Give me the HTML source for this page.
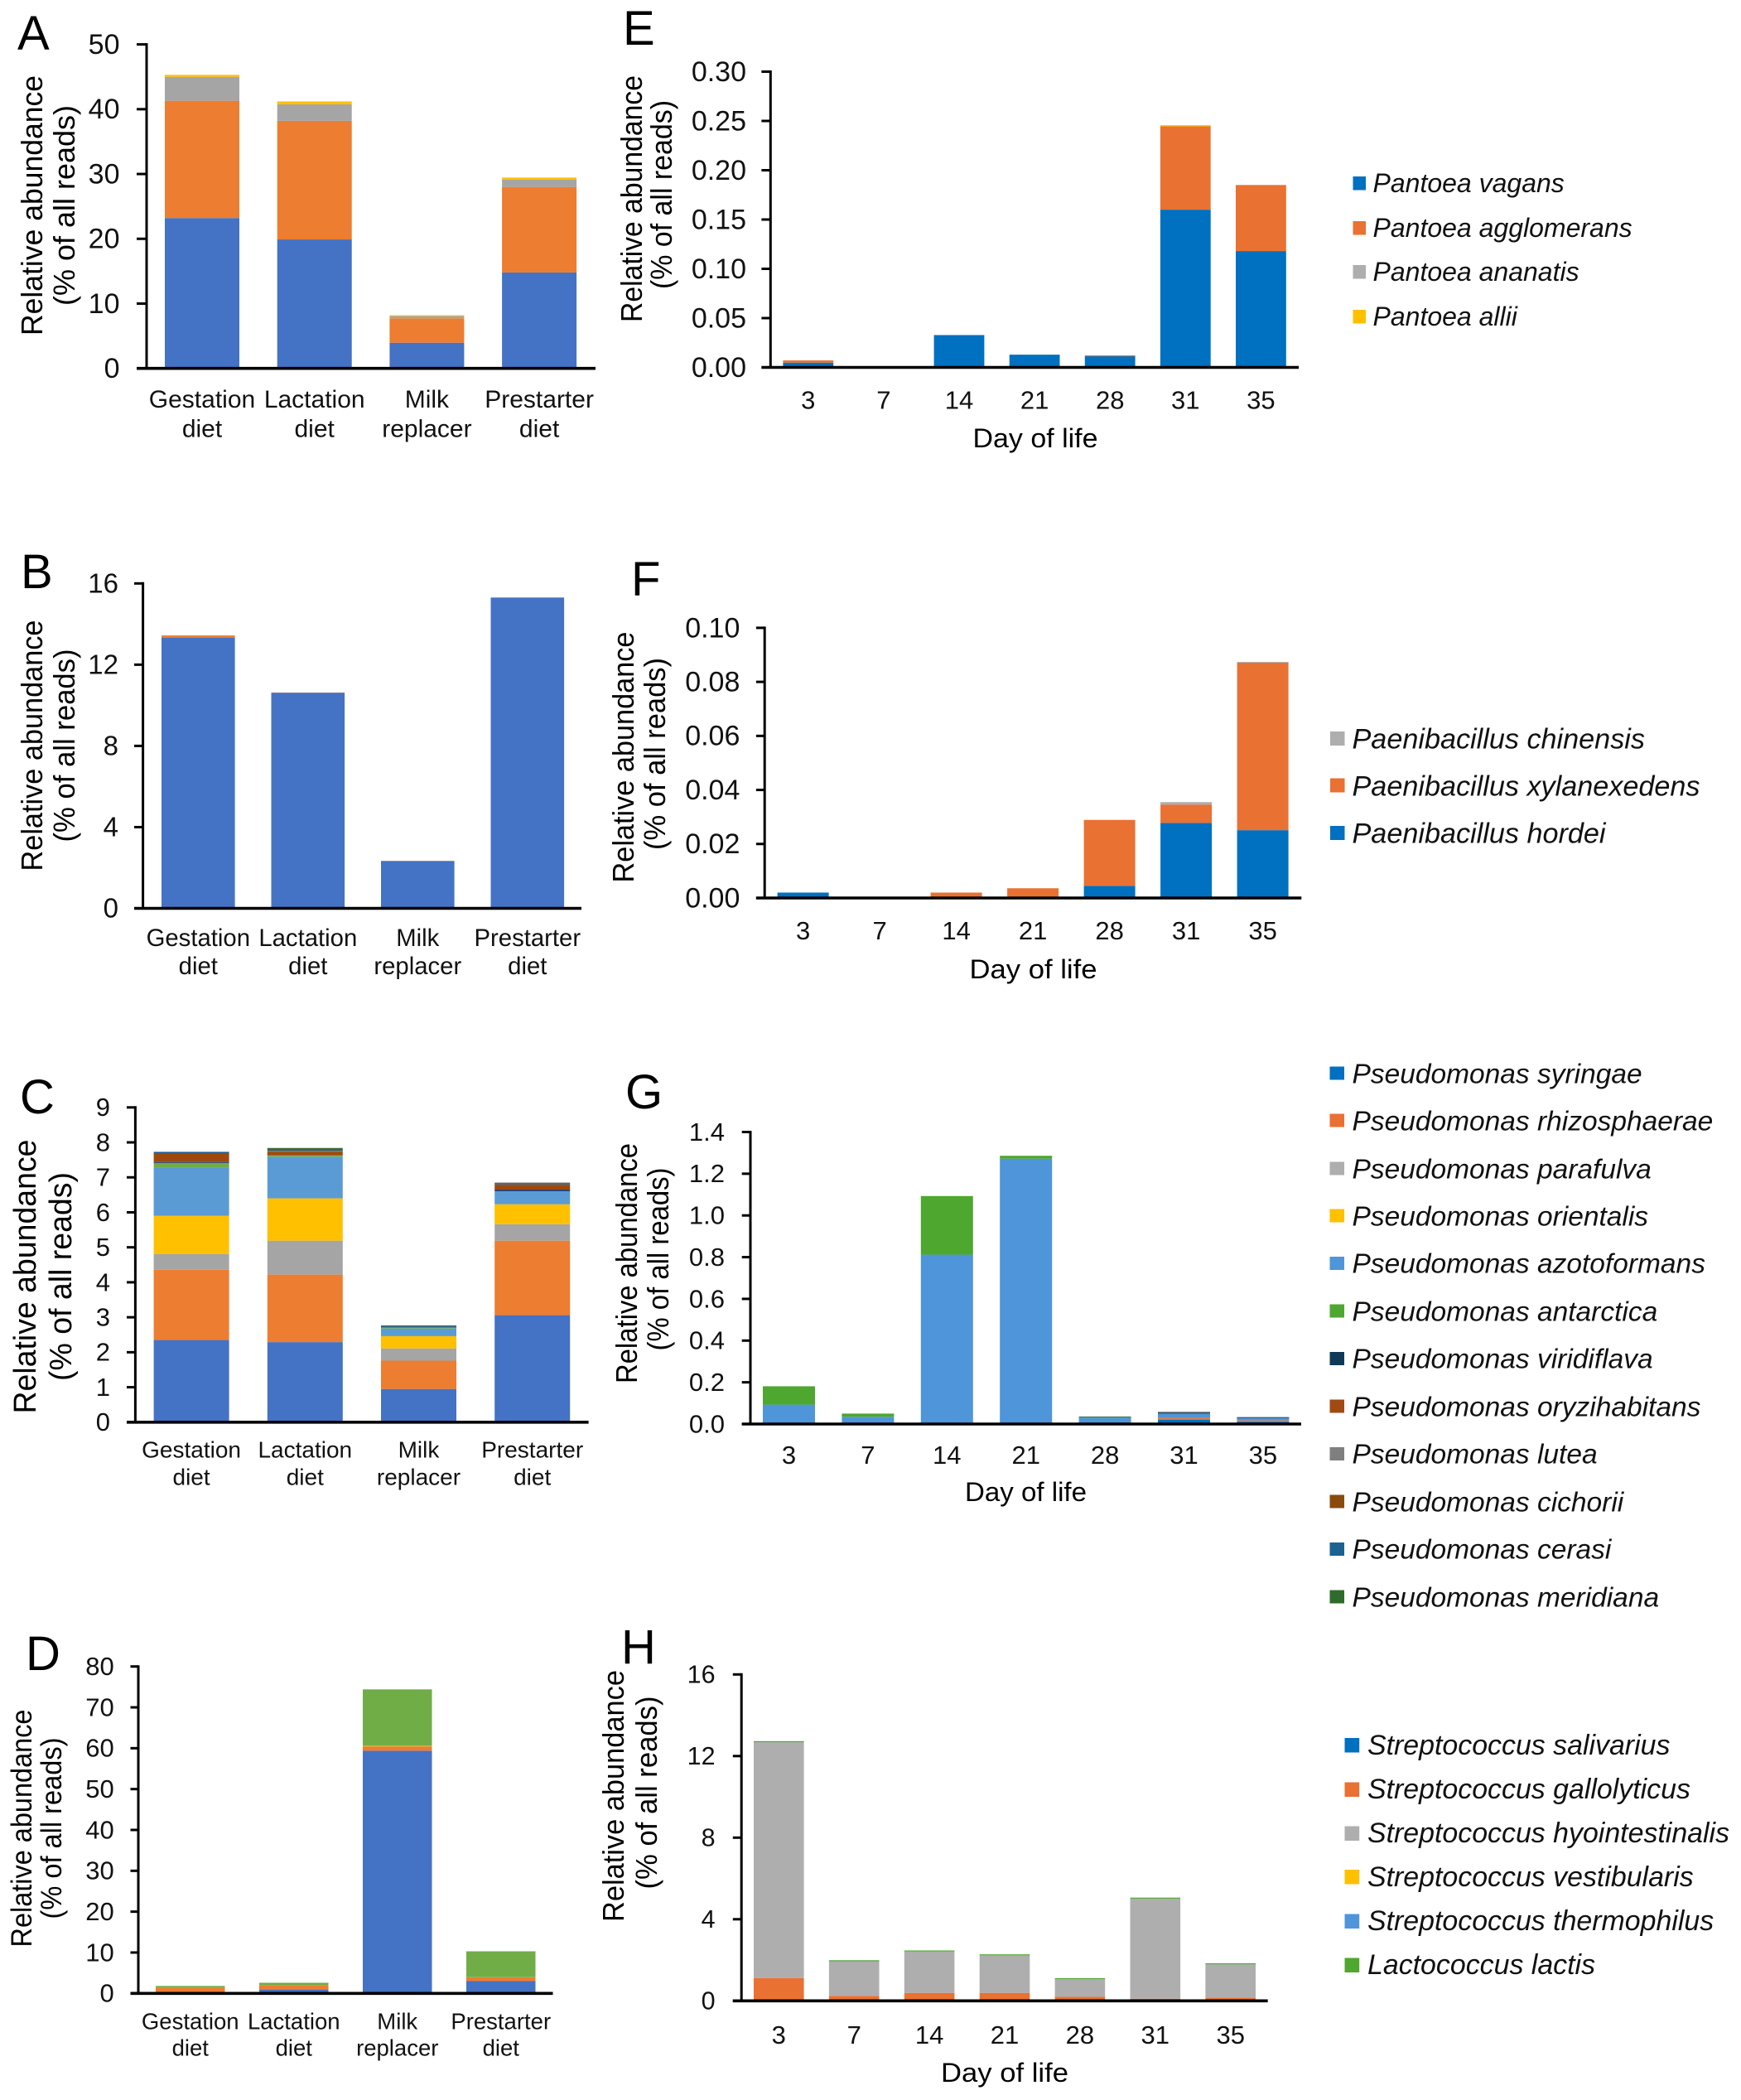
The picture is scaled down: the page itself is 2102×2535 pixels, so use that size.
<!DOCTYPE html>
<html lang="en">
<head>
<meta charset="utf-8">
<title>Relative abundance of bacterial species</title>
<style>
html,body{margin:0;padding:0;background:#fff;}
svg{display:block;font-family:"Liberation Sans",Arial,sans-serif;fill:#000;}
.letter{font-size:58px;}
.ylab{text-anchor:middle;}
.xlab{text-anchor:middle;}
.leg{font-style:italic;fill:#111;}
</style>
</head>
<body>
<svg id="figure" xmlns="http://www.w3.org/2000/svg" width="2102" height="2535" viewBox="0 0 2102 2535">
<rect width="2102" height="2535" fill="#fff"/>

<g id="plots"></g>

<text class="letter" x="21" y="60">A</text>
<text class="letter" x="25" y="710">B</text>
<text class="letter" x="24" y="1344">C</text>
<text class="letter" x="31" y="2016">D</text>
<text class="letter" x="752" y="54">E</text>
<text class="letter" x="762" y="719">F</text>
<text class="letter" x="755" y="1338">G</text>
<text class="letter" x="750" y="2008">H</text>

<text class="ylab" font-size="36" transform="translate(51,248) rotate(-90)" textLength="314" lengthAdjust="spacingAndGlyphs">Relative abundance</text>
<text class="ylab" font-size="36" transform="translate(90,248) rotate(-90)" textLength="242" lengthAdjust="spacingAndGlyphs">(% of all reads)</text>
<text class="ylab" font-size="36" transform="translate(51,900) rotate(-90)" textLength="303" lengthAdjust="spacingAndGlyphs">Relative abundance</text>
<text class="ylab" font-size="36" transform="translate(90,900) rotate(-90)" textLength="233" lengthAdjust="spacingAndGlyphs">(% of all reads)</text>
<text class="ylab" font-size="38" transform="translate(43,1541) rotate(-90)" textLength="331" lengthAdjust="spacingAndGlyphs">Relative abundance</text>
<text class="ylab" font-size="38" transform="translate(86,1541) rotate(-90)" textLength="252" lengthAdjust="spacingAndGlyphs">(% of all reads)</text>
<text class="ylab" font-size="35" transform="translate(38,2207) rotate(-90)" textLength="287" lengthAdjust="spacingAndGlyphs">Relative abundance</text>
<text class="ylab" font-size="35" transform="translate(74,2207) rotate(-90)" textLength="219" lengthAdjust="spacingAndGlyphs">(% of all reads)</text>
<text class="ylab" font-size="36" transform="translate(775,240) rotate(-90)" textLength="298" lengthAdjust="spacingAndGlyphs">Relative abundance</text>
<text class="ylab" font-size="36" transform="translate(811,235) rotate(-90)" textLength="228" lengthAdjust="spacingAndGlyphs">(% of all reads)</text>
<text class="ylab" font-size="36" transform="translate(765,914) rotate(-90)" textLength="303" lengthAdjust="spacingAndGlyphs">Relative abundance</text>
<text class="ylab" font-size="36" transform="translate(803,910) rotate(-90)" textLength="232" lengthAdjust="spacingAndGlyphs">(% of all reads)</text>
<text class="ylab" font-size="36" transform="translate(769,1525) rotate(-90)" textLength="290" lengthAdjust="spacingAndGlyphs">Relative abundance</text>
<text class="ylab" font-size="36" transform="translate(807,1520) rotate(-90)" textLength="221" lengthAdjust="spacingAndGlyphs">(% of all reads)</text>
<text class="ylab" font-size="36" transform="translate(753,2168) rotate(-90)" textLength="304" lengthAdjust="spacingAndGlyphs">Relative abundance</text>
<text class="ylab" font-size="36" transform="translate(793,2164) rotate(-90)" textLength="233" lengthAdjust="spacingAndGlyphs">(% of all reads)</text>

<text class="xlab" font-size="32" x="1250" y="540" textLength="151" lengthAdjust="spacingAndGlyphs">Day of life</text>
<text class="xlab" font-size="32" x="1247.5" y="1181" textLength="154" lengthAdjust="spacingAndGlyphs">Day of life</text>
<text class="xlab" font-size="32" x="1238.5" y="1812" textLength="147" lengthAdjust="spacingAndGlyphs">Day of life</text>
<text class="xlab" font-size="32" x="1213" y="2513" textLength="154" lengthAdjust="spacingAndGlyphs">Day of life</text>

<g font-size="32" transform="translate(-0.5,-1)">
<rect x="1634" y="214" width="15.5" height="16.5" fill="#0070c0"/>
<text class="leg" x="1658" y="233">Pantoea vagans</text>
<rect x="1634" y="268" width="15.5" height="16.5" fill="#e97132"/>
<text class="leg" x="1658" y="287">Pantoea agglomerans</text>
<rect x="1634" y="321" width="15.5" height="16.5" fill="#aeaeae"/>
<text class="leg" x="1658" y="340">Pantoea ananatis</text>
<rect x="1634" y="375" width="15.5" height="16.5" fill="#ffc000"/>
<text class="leg" x="1658" y="394">Pantoea allii</text>
</g>

<g font-size="34.2" transform="translate(-0.5,-1.5)">
<rect x="1606.5" y="884.5" width="17.5" height="17" fill="#aeaeae"/>
<text class="leg" x="1633" y="905">Paenibacillus chinensis</text>
<rect x="1606.5" y="941" width="17.5" height="17" fill="#e97132"/>
<text class="leg" x="1633" y="962">Paenibacillus xylanexedens</text>
<rect x="1606.5" y="998.5" width="17.5" height="17" fill="#0070c0"/>
<text class="leg" x="1633" y="1019">Paenibacillus hordei</text>
</g>

<g font-size="33.5" transform="translate(-0.5,-1.5)">
<rect x="1606" y="1289" width="17.5" height="16" fill="#0070c0"/>
<text class="leg" x="1633" y="1309">Pseudomonas syringae</text>
<rect x="1606" y="1346" width="17.5" height="16" fill="#e97132"/>
<text class="leg" x="1633" y="1366">Pseudomonas rhizosphaerae</text>
<rect x="1606" y="1404" width="17.5" height="16" fill="#aeaeae"/>
<text class="leg" x="1633" y="1424">Pseudomonas parafulva</text>
<rect x="1606" y="1461" width="17.5" height="16" fill="#ffc000"/>
<text class="leg" x="1633" y="1481">Pseudomonas orientalis</text>
<rect x="1606" y="1518.5" width="17.5" height="16" fill="#4e95d9"/>
<text class="leg" x="1633" y="1538">Pseudomonas azotoformans</text>
<rect x="1606" y="1576" width="17.5" height="16" fill="#4ea72e"/>
<text class="leg" x="1633" y="1596">Pseudomonas antarctica</text>
<rect x="1606" y="1633.5" width="17.5" height="16" fill="#0f3a57"/>
<text class="leg" x="1633" y="1653">Pseudomonas viridiflava</text>
<rect x="1606" y="1691" width="17.5" height="16" fill="#a04a14"/>
<text class="leg" x="1633" y="1711">Pseudomonas oryzihabitans</text>
<rect x="1606" y="1748.5" width="17.5" height="16" fill="#7f7f7f"/>
<text class="leg" x="1633" y="1768">Pseudomonas lutea</text>
<rect x="1606" y="1806" width="17.5" height="16" fill="#8a4a0c"/>
<text class="leg" x="1633" y="1826">Pseudomonas cichorii</text>
<rect x="1606" y="1863.5" width="17.5" height="16" fill="#1a6290"/>
<text class="leg" x="1633" y="1883">Pseudomonas cerasi</text>
<rect x="1606" y="1921" width="17.5" height="16" fill="#2f6b2a"/>
<text class="leg" x="1633" y="1941">Pseudomonas meridiana</text>
</g>

<g font-size="33.9" transform="translate(-0.5,-1)">
<rect x="1624" y="2099" width="17.7" height="17.5" fill="#0070c0"/>
<text class="leg" x="1651.5" y="2119">Streptococcus salivarius</text>
<rect x="1624" y="2152.5" width="17.7" height="17.5" fill="#e97132"/>
<text class="leg" x="1651.5" y="2172">Streptococcus gallolyticus</text>
<rect x="1624" y="2205.5" width="17.7" height="17.5" fill="#aeaeae"/>
<text class="leg" x="1651.5" y="2225">Streptococcus hyointestinalis</text>
<rect x="1624" y="2258" width="17.7" height="17.5" fill="#ffc000"/>
<text class="leg" x="1651.5" y="2278">Streptococcus vestibularis</text>
<rect x="1624" y="2311.5" width="17.7" height="17.5" fill="#4e95d9"/>
<text class="leg" x="1651.5" y="2331">Streptococcus thermophilus</text>
<rect x="1624" y="2364.5" width="17.7" height="17.5" fill="#4ea72e"/>
<text class="leg" x="1651.5" y="2384">Lactococcus lactis</text>
</g>
</svg>

<script>
// Categories
const dietCategories = ['Gestation diet', 'Lactation diet', 'Milk replacer', 'Prestarter diet'];
const dayCategories = ['3', '7', '14', '21', '28', '31', '35'];

// Tick labels
const ticksA = ['0', '10', '20', '30', '40', '50'];
const ticksB = ['0', '4', '8', '12', '16'];
const ticksC = ['0', '1', '2', '3', '4', '5', '6', '7', '8', '9'];
const ticksD = ['0', '10', '20', '30', '40', '50', '60', '70', '80'];
const ticksE = ['0.00', '0.05', '0.10', '0.15', '0.20', '0.25', '0.30'];
const ticksF = ['0.00', '0.02', '0.04', '0.06', '0.08', '0.10'];
const ticksG = ['0.0', '0.2', '0.4', '0.6', '0.8', '1.0', '1.2', '1.4'];
const ticksH = ['0', '4', '8', '12', '16'];

// Panel A
const aBlue = [23.2, 19.9, 3.96, 14.8];
const aOrange = [18.1, 18.3, 3.77, 13.2];
const aGray = [3.7, 2.55, 0.34, 1.15];
const aYellow = [0.3, 0.45, 0.13, 0.3];

// Panel B
const bBlue = [13.32, 10.62, 2.33, 15.3];
const bOrange = [0.12, 0.01, 0.01, 0.01];

// Panel C
const cSyringae = [2.35, 2.29, 0.95, 3.06];
const cRhizosphaerae = [2.01, 1.93, 0.81, 2.13];
const cParafulva = [0.45, 0.97, 0.35, 0.47];
const cOrientalis = [1.09, 1.21, 0.35, 0.57];
const cAzotoformans = [1.38, 1.19, 0.22, 0.37];
const cAntarctica = [0.13, 0.04, 0.02, 0];
const cViridiflava = [0.03, 0, 0, 0.05];
const cOryzihabitans = [0.24, 0.1, 0, 0.13];
const cLutea = [0, 0, 0.02, 0.07];
const cCichorii = [0, 0.03, 0, 0];
const cCerasi = [0.05, 0.05, 0.03, 0];
const cMeridiana = [0, 0.03, 0.02, 0];

// Panel D
const dBlue = [0.3, 0.95, 59.4, 3.0];
const dOrange = [1.1, 1.05, 1.05, 0.95];
const dYellow = [0.02, 0.02, 0.15, 0.02];
const dGreen = [0.4, 0.58, 13.8, 6.33];

// Panel E
const eVagans = [0.0048, 0, 0.0328, 0.0129, 0.0113, 0.16, 0.118];
const eAgglomerans = [0.0023, 0, 0, 0, 0.0009, 0.0845, 0.067];
const eAnanatis = [0, 0, 0, 0, 0, 0, 0];
const eAllii = [0, 0, 0, 0, 0, 0.0012, 0];

// Panel F
const fHordei = [0.002, 0, 0, 0, 0.0045, 0.0278, 0.0251];
const fXylanexedens = [0, 0, 0.002, 0.0036, 0.0244, 0.0068, 0.062];
const fChinensis = [0, 0, 0, 0, 0, 0.0009, 0.0003];

// Panel G
const gSyringae = [0, 0, 0, 0, 0, 0.02, 0.011];
const gRhizosphaerae = [0, 0, 0, 0, 0, 0.009, 0.006];
const gAzotoformans = [0.093, 0.035, 0.812, 1.272, 0.03, 0.021, 0.012];
const gAntarctica = [0.088, 0.015, 0.281, 0.014, 0.004, 0, 0];
const gViridiflava = [0, 0, 0, 0, 0.002, 0.005, 0.004];
const gLutea = [0, 0, 0, 0, 0, 0.004, 0];

// Panel H
const hGallolyticus = [1.12, 0.24, 0.39, 0.39, 0.2, 0.1, 0.15];
const hHyointestinalis = [11.56, 1.7, 2.03, 1.84, 0.86, 4.91, 1.64];
const hLactis = [0.05, 0.05, 0.05, 0.05, 0.05, 0.05, 0.05];

const OFFICE_OLD = {blue:'#4472c4', orange:'#ed7d31', gray:'#a5a5a5', yellow:'#ffc000', sky:'#5b9bd5', green:'#70ad47',
  navy:'#264478', rust:'#9e480e', dim:'#636363', olive:'#997300', teal:'#255e91', moss:'#43682b'};
const OFFICE_NEW = {blue:'#0070c0', orange:'#e97132', gray:'#aeaeae', yellow:'#ffc000', sky:'#4e95d9', green:'#4ea72e',
  navy:'#0f3a57', dim:'#7f7f7f'};

const panels = [
  {id:'a', cats:dietCategories, ticks:ticksA, axisX:177, top:53.6, bottom:444.7, xStart:165, xEnd:719,
   barLeft:199, step:135.7, barW:90, tickRight:144.5, tickFont:34, catFont:30, catY:491.8, catLine:35.5,
   series:[[aBlue,OFFICE_OLD.blue,'blue'],[aOrange,OFFICE_OLD.orange,'orange'],[aGray,OFFICE_OLD.gray,'gray'],[aYellow,OFFICE_OLD.yellow,'yellow']]},
  {id:'b', cats:dietCategories, ticks:ticksB, axisX:172.6, top:704.3, bottom:1096.5, xStart:162, xEnd:702,
   barLeft:195, step:132.5, barW:88.6, tickRight:143, tickFont:33, catFont:29.3, catY:1142, catLine:33.8,
   series:[[bBlue,OFFICE_OLD.blue,'blue'],[bOrange,OFFICE_OLD.orange,'orange']]},
  {id:'c', cats:dietCategories, ticks:ticksC, axisX:163.4, top:1336.8, bottom:1716.8, xStart:153, xEnd:710.6,
   barLeft:185.6, step:137.2, barW:91, tickRight:133, tickFont:31, catFont:28, catY:1759.6, catLine:32.9,
   series:[[cSyringae,OFFICE_OLD.blue,'syringae'],[cRhizosphaerae,OFFICE_OLD.orange,'rhizosphaerae'],[cParafulva,OFFICE_OLD.gray,'parafulva'],
           [cOrientalis,OFFICE_OLD.yellow,'orientalis'],[cAzotoformans,OFFICE_OLD.sky,'azotoformans'],[cAntarctica,OFFICE_OLD.green,'antarctica'],
           [cViridiflava,OFFICE_OLD.navy,'viridiflava'],[cOryzihabitans,OFFICE_OLD.rust,'oryzihabitans'],[cLutea,OFFICE_OLD.dim,'lutea'],
           [cCichorii,OFFICE_OLD.olive,'cichorii'],[cCerasi,OFFICE_OLD.teal,'cerasi'],[cMeridiana,OFFICE_OLD.moss,'meridiana']]},
  {id:'d', cats:dietCategories, ticks:ticksD, axisX:167, top:2011.7, bottom:2406.3, xStart:157.5, xEnd:667.5,
   barLeft:188, step:125, barW:83.5, tickRight:137.7, tickFont:31, catFont:27.5, catY:2449.5, catLine:31.9,
   series:[[dBlue,OFFICE_OLD.blue,'blue'],[dOrange,OFFICE_OLD.orange,'orange'],[dYellow,OFFICE_OLD.yellow,'yellow'],[dGreen,OFFICE_OLD.green,'green']]},
  {id:'e', cats:dayCategories, ticks:ticksE, axisX:930.3, top:86.5, bottom:443.5, xStart:919.4, xEnd:1568,
   barLeft:945.4, step:91.1, barW:60.8, tickRight:901, tickFont:34, catFont:31, catY:493.5, catLine:0,
   series:[[eVagans,OFFICE_NEW.blue,'vagans'],[eAgglomerans,OFFICE_NEW.orange,'agglomerans'],[eAnanatis,OFFICE_NEW.gray,'ananatis'],[eAllii,OFFICE_NEW.yellow,'allii']]},
  {id:'f', cats:dayCategories, ticks:ticksF, axisX:923.2, top:757.9, bottom:1084, xStart:912.9, xEnd:1571.3,
   barLeft:938.6, step:92.5, barW:62, tickRight:893.4, tickFont:34, catFont:31, catY:1134, catLine:0,
   series:[[fHordei,OFFICE_NEW.blue,'hordei'],[fXylanexedens,OFFICE_NEW.orange,'xylanexedens'],[fChinensis,OFFICE_NEW.gray,'chinensis']]},
  {id:'g', cats:dayCategories, ticks:ticksG, axisX:906, top:1366.5, bottom:1719, xStart:895.7, xEnd:1571,
   barLeft:921, step:95.4, barW:63, tickRight:875, tickFont:31, catFont:31, catY:1767, catLine:0,
   series:[[gSyringae,OFFICE_NEW.blue,'syringae'],[gRhizosphaerae,OFFICE_NEW.orange,'rhizosphaerae'],[gAzotoformans,OFFICE_NEW.sky,'azotoformans'],
           [gAntarctica,OFFICE_NEW.green,'antarctica'],[gViridiflava,OFFICE_NEW.navy,'viridiflava'],[gLutea,OFFICE_NEW.dim,'lutea']]},
  {id:'h', cats:dayCategories, ticks:ticksH, axisX:895.2, top:2021.3, bottom:2415.3, xStart:884.8, xEnd:1530.7,
   barLeft:910, step:90.9, barW:60.6, tickRight:863.6, tickFont:30.5, catFont:31, catY:2467, catLine:0,
   series:[[hGallolyticus,OFFICE_NEW.orange,'gallolyticus'],[hHyointestinalis,OFFICE_NEW.gray,'hyointestinalis'],[hLactis,OFFICE_NEW.green,'lactis']]}
];

const NS = 'http://www.w3.org/2000/svg';
const root = document.getElementById('plots');

function svgEl(tag, attrs, parent) {
  const el = document.createElementNS(NS, tag);
  for (const k in attrs) el.setAttribute(k, attrs[k]);
  parent.appendChild(el);
  return el;
}

function drawPanel(p) {
  const g = svgEl('g', {}, root);
  
  

  const tickValues = p.ticks.map(Number);
  const maxVal = Math.max.apply(null, tickValues);
  const yScale = function (v) { return p.bottom - (v / maxVal) * (p.bottom - p.top); };
  const xScale = function (i) { return p.barLeft + i * p.step; };

  // stacked bars
  p.cats.forEach(function (cat, i) {
    let running = 0;
    p.series.forEach(function (s) {
      const v = s[0][i];
      const y1 = yScale(running);
      const y2 = yScale(running + v);
      const r = svgEl('rect', {x: xScale(i), y: y2, width: p.barW, height: Math.max(0, y1 - y2), fill: s[1]}, g);
      
      
      running += v;
    });

    // category label
    const t = svgEl('text', {x: xScale(i) + p.barW / 2, y: p.catY, 'font-size': p.catFont, 'text-anchor': 'middle', fill: '#111'}, g);
    
    
    const parts = cat.split(' ');
    parts.forEach(function (part, j) {
      const ts = svgEl('tspan', {x: xScale(i) + p.barW / 2, y: p.catY + j * p.catLine}, t);
      ts.textContent = part;
    });
  });

  // y ticks and labels
  p.ticks.forEach(function (label, i) {
    const y = yScale(tickValues[i]);
    const tick = svgEl('line', {x1: p.xStart, x2: p.axisX, y1: y, y2: y, stroke: '#000', 'stroke-width': 3}, g);
    
    
    const t = svgEl('text', {x: p.tickRight, y: y + p.tickFont * 0.335, 'font-size': p.tickFont, 'text-anchor': 'end', fill: '#111'}, g);
    
    
    t.textContent = label;
  });

  // axes
  const yAxis = svgEl('line', {x1: p.axisX, x2: p.axisX, y1: p.top - 1.5, y2: p.bottom, stroke: '#000', 'stroke-width': 3}, g);
  
  
  const xAxis = svgEl('line', {x1: p.xStart, x2: p.xEnd, y1: p.bottom, y2: p.bottom, stroke: '#000', 'stroke-width': 3.6}, g);
  
  
}

panels.forEach(drawPanel);
</script>
</body>
</html>
